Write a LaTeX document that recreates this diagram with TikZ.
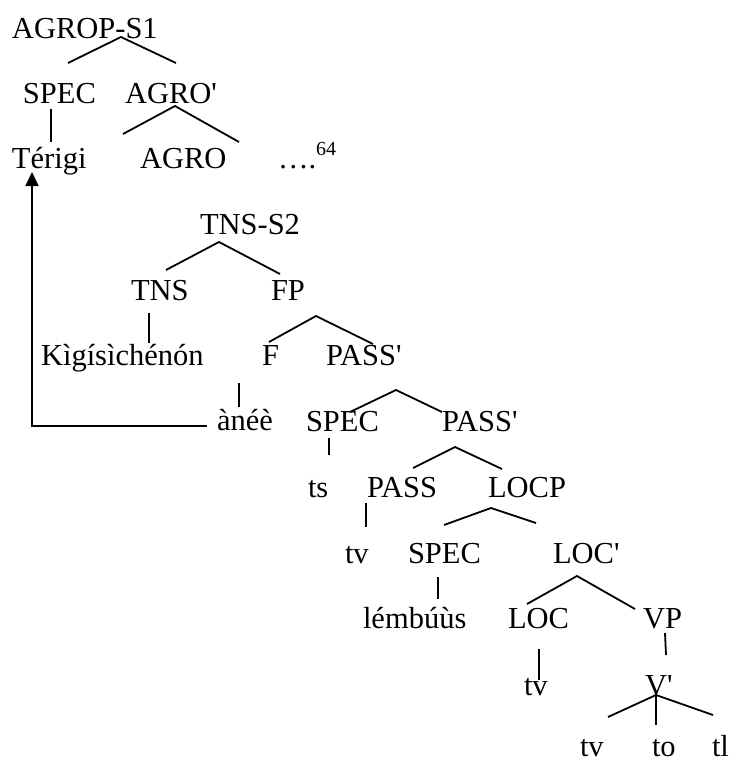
\documentclass[tikz,border=0pt]{standalone}
\usepackage{fontspec}
\setmainfont{Liberation Serif}
\usetikzlibrary{arrows.meta}
\begin{document}
\begin{tikzpicture}[x=1pt,y=-1pt,
  lab/.style={anchor=base west,inner sep=0pt,outer sep=0pt,font=\fontsize{30.5}{36}\selectfont},
  br/.style={line width=1.8pt,line cap=butt},
  mv/.style={line width=1.8pt,-{Triangle[length=14pt,width=13pt]}}]
\useasboundingbox (0,0) rectangle (733,763);
% labels
\node[lab] (agrop) at (12,38) {AGROP-S1};
\node[lab] (spec1) at (23,103) {SPEC};
\node[lab] (agrob) at (125,103) {AGRO\textquotesingle};
\node[lab] (terigi) at (12,168) {Térigi};
\node[lab] (agro) at (140,168) {AGRO};
\node[lab] (dots) at (278,168) {….\raisebox{13pt}{\fontsize{20}{24}\selectfont 64}};
\node[lab] (tnss) at (200,234) {TNS-S2};
\node[lab] (tns) at (131,300) {TNS};
\node[lab] (fp) at (271,300) {FP};
\node[lab] (kig) at (41,365) {Kìgísìchénón};
\node[lab] (f) at (262,365) {F};
\node[lab] (passa) at (326,365) {PASS\textquotesingle};
\node[lab] (anee) at (217,430) {ànéè};
\node[lab] (spec2) at (306,431) {SPEC};
\node[lab] (passb) at (442,431) {PASS\textquotesingle};
\node[lab] (ts) at (308,497) {ts};
\node[lab] (pass) at (367,497) {PASS};
\node[lab] (locp) at (488,497) {LOCP};
\node[lab] (tva) at (345,563) {tv};
\node[lab] (spec3) at (408,563) {SPEC};
\node[lab] (locb) at (553,563) {LOC\textquotesingle};
\node[lab] (lemb) at (363,628) {lémbúùs};
\node[lab] (loc) at (508,628) {LOC};
\node[lab] (vp) at (643,628) {VP};
\node[lab] (tvb) at (524,695) {tv};
\node[lab] (vb) at (645,695) {V\textquotesingle};
\node[lab] (tvc) at (580,756) {tv};
\node[lab] (to) at (652,756) {to};
\node[lab] (tl) at (712,756) {tl};
% branch points
\coordinate (agropA) at (121,37);
\coordinate (agropL) at (68,63);
\coordinate (agropR) at (176,63);
\coordinate (spec1B) at (51,109);
\coordinate (terigiT) at (51,142);
\coordinate (agrobA) at (175,106);
\coordinate (agrobL) at (123,134);
\coordinate (agrobR) at (239,142);
\coordinate (tnssA) at (219,242);
\coordinate (tnssL) at (166,270);
\coordinate (tnssR) at (280,274);
\coordinate (tnsB) at (149,313);
\coordinate (kigT) at (149,343);
\coordinate (fpA) at (316,316);
\coordinate (fpL) at (269,342);
\coordinate (fpR) at (373,344);
\coordinate (fB) at (239,383);
\coordinate (aneeT) at (239,407);
\coordinate (passaA) at (396,390);
\coordinate (passaL) at (350,412);
\coordinate (passaR) at (442,412);
\coordinate (spec2B) at (329,438);
\coordinate (tsT) at (329,455);
\coordinate (passbA) at (455,447);
\coordinate (passbL) at (413,468);
\coordinate (passbR) at (502,469);
\coordinate (passB) at (366,503);
\coordinate (tvaT) at (366,527);
\coordinate (locpA) at (491,508);
\coordinate (locpL) at (444,525);
\coordinate (locpR) at (536,523);
\coordinate (spec3B) at (438,577);
\coordinate (lembT) at (438,599);
\coordinate (locbA) at (577,576);
\coordinate (locbL) at (527,604);
\coordinate (locbR) at (635,609);
\coordinate (locB) at (539,649);
\coordinate (tvbT) at (539,680);
\coordinate (vpB) at (665,633);
\coordinate (vbT) at (666,655);
\coordinate (vbA) at (656,695);
\coordinate (vbL) at (608,717);
\coordinate (vbM) at (656,725);
\coordinate (vbR) at (713,715);
\coordinate (mvS) at (207,426);
\coordinate (mvC) at (32,426);
\coordinate (mvE) at (32,172);
% branches
\draw[br] (agropL) -- (agropA) -- (agropR);
\draw[br] (spec1B) -- (terigiT);
\draw[br] (agrobL) -- (agrobA) -- (agrobR);
\draw[br] (tnssL) -- (tnssA) -- (tnssR);
\draw[br] (tnsB) -- (kigT);
\draw[br] (fpL) -- (fpA) -- (fpR);
\draw[br] (fB) -- (aneeT);
\draw[br] (passaL) -- (passaA) -- (passaR);
\draw[br] (spec2B) -- (tsT);
\draw[br] (passbL) -- (passbA) -- (passbR);
\draw[br] (passB) -- (tvaT);
\draw[br] (locpL) -- (locpA) -- (locpR);
\draw[br] (spec3B) -- (lembT);
\draw[br] (locbL) -- (locbA) -- (locbR);
\draw[br] (locB) -- (tvbT);
\draw[br] (vpB) -- (vbT);
\draw[br] (vbL) -- (vbA) -- (vbR);
\draw[br] (vbA) -- (vbM);
% movement arrow
\draw[mv] (mvS) -- (mvC) -- (mvE);
\end{tikzpicture}
\end{document}
